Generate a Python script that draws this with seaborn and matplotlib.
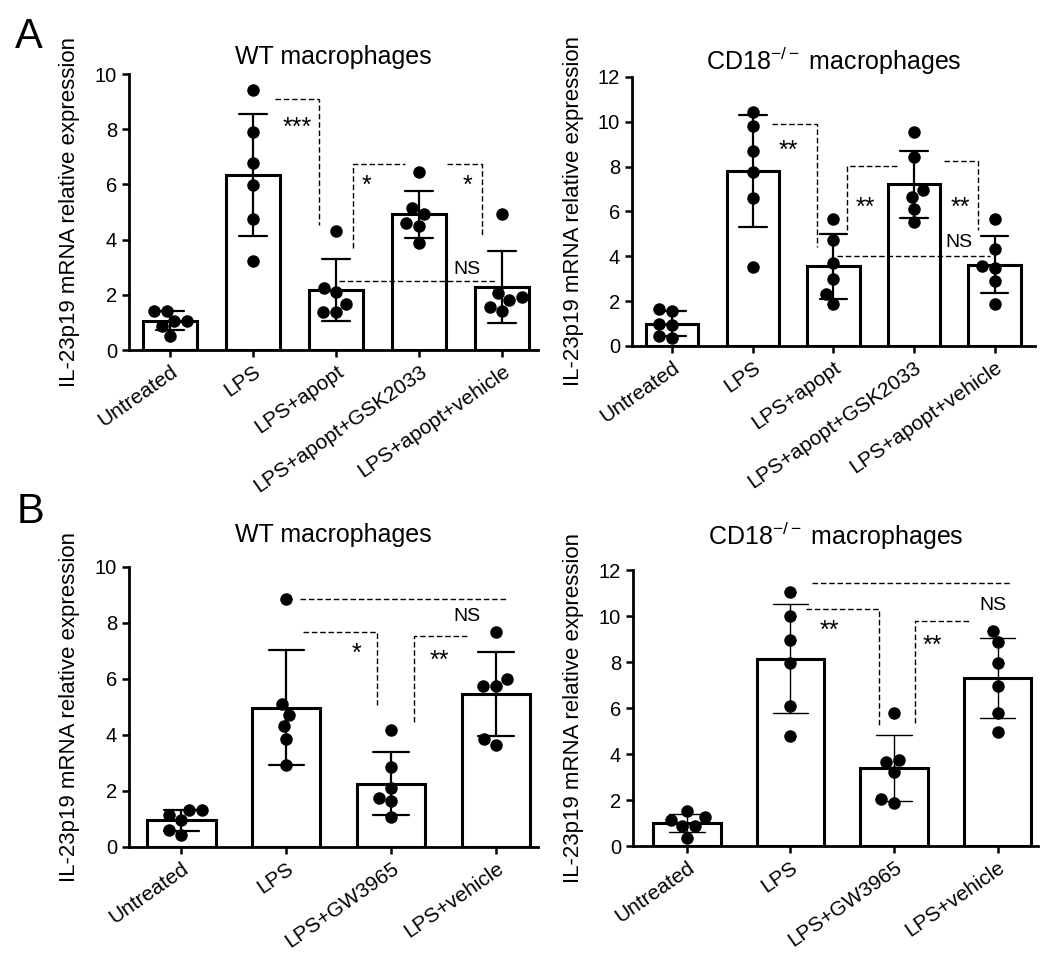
import numpy as np
import pandas as pd
import matplotlib
matplotlib.use("Agg")
import matplotlib.pyplot as plt
import seaborn as sns

# group names
labels_a = ["Untreated", "LPS", "LPS+apopt", "LPS+apopt+GSK2033", "LPS+apopt+vehicle"]
labels_b = ["Untreated", "LPS", "LPS+GW3965", "LPS+vehicle"]

# IL-23p19 relative expression, 6 replicates per group
wt_a = [
    [1.06, 0.51, 1.43, 0.88, 1.43, 1.06],
    [9.44, 7.89, 6.79, 5.99, 4.76, 3.22],
    [4.32, 2.23, 2.09, 1.36, 1.65, 1.36],
    [6.44, 4.92, 5.13, 4.59, 4.50, 3.89],
    [4.92, 2.05, 1.91, 1.81, 1.43, 1.57],
]
cd18_a = [
    [1.67, 1.57, 1.00, 0.95, 0.37, 0.43],
    [10.42, 9.79, 8.68, 7.75, 6.59, 3.53],
    [5.66, 4.73, 3.71, 2.98, 2.34, 1.89],
    [9.54, 8.45, 6.66, 6.96, 6.11, 5.52],
    [5.66, 4.31, 3.46, 3.56, 2.89, 1.89],
]
wt_b = [
    [0.95, 1.31, 1.13, 1.31, 0.42, 0.60],
    [8.87, 5.12, 4.73, 4.31, 3.87, 2.94],
    [4.19, 2.86, 2.11, 1.75, 1.63, 1.06],
    [7.67, 5.76, 6.01, 5.76, 3.65, 3.86],
]
cd18_b = [
    [1.12, 1.26, 0.87, 1.52, 0.87, 0.36],
    [11.06, 10.00, 8.95, 7.97, 6.09, 4.77],
    [5.79, 3.66, 3.73, 3.22, 1.89, 2.03],
    [9.36, 8.85, 7.94, 6.96, 5.79, 4.96],
]

# significance brackets: (xs, ys, text, text_x, text_y)
sig_wt_a = [
    ([1.27, 1.80, 1.80], [9.08, 9.08, 4.53], "***", 1.53, 8.33),
    ([2.20, 2.20, 2.83], [3.68, 6.73, 6.73], "*", 2.37, 6.22),
    ([3.34, 3.76, 3.76], [6.73, 6.73, 4.17], "*", 3.58, 6.22),
    ([2.03, 3.92], [2.51, 2.51], "NS", 3.57, 3.0),
]
sig_cd18_a = [
    ([1.24, 1.80, 1.80], [9.90, 9.90, 4.43], "**", 1.44, 9.05),
    ([2.17, 2.17, 2.81], [5.17, 8.05, 8.05], "**", 2.39, 6.51),
    ([3.37, 3.79, 3.79], [8.27, 8.27, 5.17], "**", 3.57, 6.51),
    ([2.04, 3.94], [4.01, 4.01], "NS", 3.56, 4.73),
]
sig_wt_b = [
    ([1.13, 3.11], [8.87, 8.87], "NS", 2.72, 8.33),
    ([1.16, 1.86, 1.86], [7.68, 7.68, 5.08], "*", 1.67, 7.17),
    ([2.22, 2.22, 2.74], [4.45, 7.52, 7.52], "**", 2.46, 6.93),
]
sig_cd18_b = [
    ([1.21, 3.13], [11.42, 11.42], "NS", 2.95, 10.55),
    ([1.15, 1.85, 1.85], [10.30, 10.30, 5.25], "**", 1.38, 9.68),
    ([2.20, 2.20, 2.74], [5.33, 9.78, 9.78], "**", 2.37, 9.02),
]

sns.set_style("ticks")
plt.rcParams["font.family"] = ["Liberation Sans", "DejaVu Sans"]
plt.rcParams["mathtext.fontset"] = "custom"
plt.rcParams["mathtext.rm"] = "Liberation Sans"
plt.rcParams["mathtext.it"] = "Liberation Sans:italic"
for k in ["text.color", "axes.labelcolor", "xtick.color", "ytick.color", "axes.edgecolor"]:
    plt.rcParams[k] = "black"


def draw_panel(ax, labels, values, ymax, title, sig, xlim, pad, err_lw):
    df = pd.DataFrame({"group": np.repeat(labels, [len(v) for v in values]),
                       "expr": np.concatenate(values)})
    sns.barplot(data=df, x="group", y="expr", order=labels, errorbar="sd",
                width=0.65, color="white", edgecolor="black", linewidth=2.2,
                capsize=0.34, err_kws={"color": "black", "linewidth": err_lw},
                ax=ax)
    sns.swarmplot(data=df, x="group", y="expr", order=labels, color="black",
                  size=9, ax=ax)
    for xs, ys, txt, tx, ty in sig:
        ax.plot(xs, ys, color="black", lw=1.0, ls=(0, (4, 2)))
        # put the glyph centre on (tx, ty)
        if txt == "NS":
            fs, off = 14, -0.36 * 14
        else:
            fs, off = 18, -0.58 * 18
        ax.annotate(txt, (tx, ty), xytext=(0, off), textcoords="offset points",
                    ha="center", va="baseline", fontsize=fs)
    ax.set_ylim(0, ymax)
    ax.set_yticks(range(0, ymax + 1, 2))
    ax.set_xlim(*xlim)
    ax.set_xlabel("")
    ax.set_ylabel("IL-23p19 mRNA relative expression", fontsize=16)
    ax.yaxis.set_label_coords(-0.12, 0.5)
    ax.set_title(title, fontsize=18, pad=pad)
    ax.set_xticks(range(len(labels)))
    ax.set_xticklabels(labels, rotation=35, ha="right", rotation_mode="anchor")
    ax.tick_params(axis="both", direction="out", length=5, width=1.8,
                   labelsize=14.5, color="black")
    ax.tick_params(axis="x", labelsize=15)
    sns.despine(ax=ax)
    for s in ["left", "bottom"]:
        ax.spines[s].set_linewidth(2)
        ax.spines[s].set_color("black")


fig = plt.figure(figsize=(10.5, 9.68), dpi=100)
ax1 = fig.add_axes([0.1229, 0.6384, 0.3895, 0.2851])
ax2 = fig.add_axes([0.6019, 0.6426, 0.3838, 0.2779])
ax3 = fig.add_axes([0.1229, 0.1250, 0.3895, 0.2893])
ax4 = fig.add_axes([0.6029, 0.1260, 0.3857, 0.2851])

draw_panel(ax1, labels_a, wt_a, 10, "WT macrophages", sig_wt_a, (-0.49, 4.43), 7, 1.6)
draw_panel(ax2, labels_a, cd18_a, 12, "CD18$^{-/-}$ macrophages", sig_cd18_a, (-0.5, 4.5), 5, 1.6)
draw_panel(ax3, labels_b, wt_b, 10, "WT macrophages", sig_wt_b, (-0.5, 3.4), 18, 1.6)
draw_panel(ax4, labels_b, cd18_b, 12, "CD18$^{-/-}$ macrophages", sig_cd18_b, (-0.52, 3.39), 18, 1.0)

fig.text(0.0143, 0.9504, "A", fontsize=30)
fig.text(0.016, 0.4597, "B", fontsize=30)

fig.savefig("out.png", dpi=100)
